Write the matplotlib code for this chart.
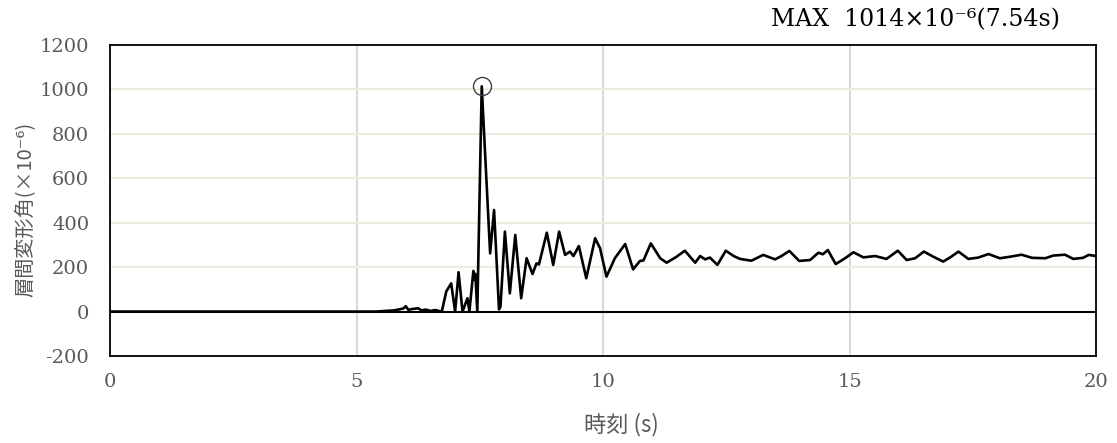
import matplotlib
matplotlib.use("Agg")
import matplotlib.pyplot as plt

# time history
t = [0, 5.4, 5.6, 5.75, 5.85, 5.95, 6.0, 6.05, 6.15, 6.25, 6.32, 6.4, 6.5, 6.6,
     6.68, 6.73, 6.82, 6.92, 7.0, 7.07, 7.15, 7.25, 7.29, 7.37, 7.39, 7.41, 7.45,
     7.54, 7.71, 7.79, 7.89, 7.92, 8.01, 8.11, 8.22, 8.34, 8.45, 8.57, 8.65, 8.70,
     8.86, 8.99, 9.11, 9.23, 9.33, 9.40, 9.51, 9.66, 9.84, 9.94, 10.07, 10.24,
     10.45, 10.61, 10.75, 10.82, 10.97, 11.16, 11.29, 11.48, 11.66, 11.87, 11.97,
     12.07, 12.17, 12.32, 12.49, 12.65, 12.78, 13.01, 13.25, 13.49, 13.62, 13.78,
     13.98, 14.20, 14.37, 14.46, 14.56, 14.72, 14.91, 15.08, 15.28, 15.52, 15.75,
     15.98, 16.16, 16.33, 16.51, 16.70, 16.90, 17.05, 17.21, 17.41, 17.61, 17.82,
     18.05, 18.26, 18.49, 18.70, 18.97, 19.13, 19.37, 19.54, 19.74, 19.85, 20.0]
v = [0, 0, 3, 5, 9, 14, 24, 8, 12, 15, 5, 9, 3, 7,
     2, 0, 90, 127, 0, 177, 0, 60, 0, 183, 145, 170, 0,
     1014, 262, 457, 10, 22, 360, 82, 345, 60, 240, 169, 217, 212,
     355, 210, 360, 255, 270, 250, 295, 150, 330, 285, 157, 240,
     304, 190, 228, 230, 307, 240, 220, 245, 274, 220, 250,
     235, 243, 210, 274, 250, 237, 229, 255, 235, 250, 273,
     228, 232, 265, 258, 277, 214, 240, 267, 244, 250, 237,
     274, 232, 240, 270, 247, 225, 245, 270, 237, 243, 259,
     240, 247, 256, 242, 240, 252, 256, 237, 242, 255, 250]

max_t = 7.54
max_v = 1014

xticks = [0, 5, 10, 15, 20]
yticks = [-200, 0, 200, 400, 600, 800, 1000, 1200]

serif = ['DejaVu Serif']
cjk = ['Noto Sans CJK JP', 'DejaVu Sans']
gray = '#595959'

fig = plt.figure(figsize=(11.17, 4.43), dpi=100)
ax = fig.add_axes([0.0985, 0.1964, 0.8827, 0.702])

# grid: light gray verticals, tan horizontals
for x in xticks[1:-1]:
    ax.axvline(x, color='#D9D9D9', lw=1.5, zorder=0)
for y in yticks[2:-1]:
    ax.axhline(y, color='#EEECE1', lw=1.5, zorder=0)
ax.axhline(0, color='black', lw=1.5, zorder=1)

ax.plot(t, v, color='black', lw=1.9, solid_joinstyle='round', zorder=3)
ax.plot([max_t], [max_v], 'o', ms=13, mfc='none', mec='#404040', mew=1.0, zorder=4)

ax.set_xlim(0, 20)
ax.set_ylim(-200, 1200)
ax.set_xticks(xticks)
ax.set_yticks(yticks)
ax.set_xticklabels([str(x) for x in xticks], family=serif, fontsize=14, color=gray)
ax.set_yticklabels([str(y) for y in yticks], family=serif, fontsize=14, color=gray)
ax.tick_params(length=0)
ax.tick_params(axis='y', pad=15)
ax.tick_params(axis='x', pad=12)
for s in ax.spines.values():
    s.set_color('black')
    s.set_linewidth(1.3)

ax.set_xlabel('時刻 (s)', family=cjk, fontsize=16, color=gray, labelpad=16,
              x=0.519)
ax.set_ylabel('層間変形角(×10⁻⁶)', family=cjk, fontsize=14.5, color=gray,
              labelpad=2, y=0.47)

fig.text(0.949, 0.955, 'MAX  1014×10⁻⁶(7.54s)', family=serif, fontsize=17,
         ha='right', va='center', color='black')

fig.savefig('out.png', dpi=100)
